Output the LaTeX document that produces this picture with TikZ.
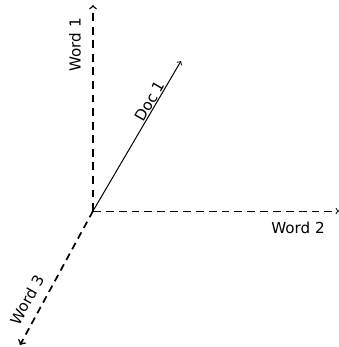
\documentclass[tikz,border=0pt]{standalone}
\usepackage{fontspec}
\setmainfont{DejaVu Sans}
\begin{document}
\begin{tikzpicture}[x=0.7pt,y=-0.7pt,
    vsmAxis/.style={->,>=to,dashed},
    vsmLbl/.style={font=\fontsize{10.6}{12}\selectfont,inner sep=1pt},
]
\useasboundingbox (0,0) rectangle (339,347);
\coordinate (O) at (93,211);
% Axes
\coordinate (W1) at (93,5);
\coordinate (W2) at (339,211);
\coordinate (W3) at (20,345);
\draw[vsmAxis,line width=1pt,dash pattern=on 5.5pt off 4pt] (O) -- (W1);
\draw[vsmAxis,line width=0.7pt,dash pattern=on 5.5pt off 3.5pt] (O) -- (W2);
\draw[vsmAxis,line width=1.2pt,dash pattern=on 5pt off 3.5pt] (O) -- (W3);
\node[vsmLbl,rotate=90] (L1) at (75,45) {Word 1};
\node[vsmLbl] (L2) at (298,228) {Word 2};
\node[vsmLbl,rotate=61] (L3) at (27,300) {Word 3};
% Document vector
\coordinate (D1) at (181,61);
\draw[->,>=to,line width=0.7pt] (O) -- (D1);
\node[vsmLbl,rotate=60] (LD) at (150,101) {Doc 1};
\end{tikzpicture}
\end{document}
